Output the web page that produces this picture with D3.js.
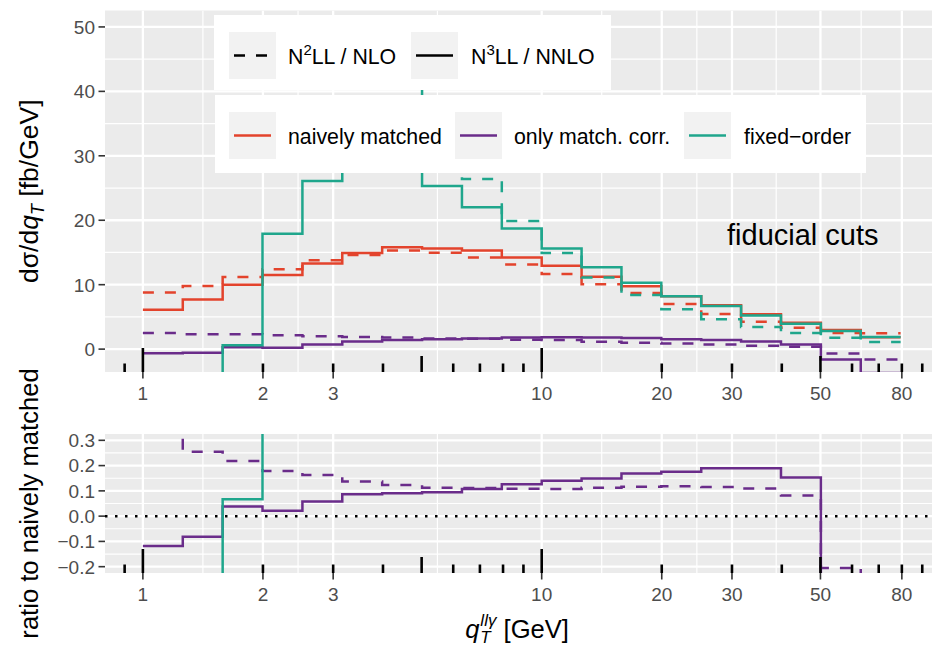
<!DOCTYPE html>
<html>
<head>
<meta charset="utf-8">
<script src="https://cdn.jsdelivr.net/npm/d3@7"></script>
<style>
  body { margin: 0; background: #ffffff; }
  svg { display: block; overflow: hidden; }
  text { font-family: "Liberation Sans", Arial, Helvetica, sans-serif; }
</style>
</head>
<body>
<svg id="chart" width="932" height="648"></svg>
<script>
// ---- data -------------------------------------------------------------
// q_T bin edges in GeV (ten bins per decade)
const binEdges = [1, 1.259, 1.585, 1.995, 2.512, 3.162, 3.981, 5.012, 6.310, 7.943,
                  10, 12.59, 15.85, 19.95, 25.12, 31.62, 39.81, 50.12, 63.10, 79.43];

const xBreaks = [1, 2, 3, 10, 20, 30, 50, 80];
const xBreakLabels = ["1", "2", "3", "10", "20", "30", "50", "80"];

const topLimits = [-1, 50];
const topBreaks = [0, 10, 20, 30, 40, 50];
const topBreakLabels = ["0", "10", "20", "30", "40", "50"];

const ratioLimits = [-0.2, 0.3];
const ratioBreaks = [-0.2, -0.1, 0, 0.1, 0.2, 0.3];
const ratioBreakLabels = ["\u22120.2", "\u22120.1", "0.0", "0.1", "0.2", "0.3"];

// dσ/dq_T [fb/GeV], one value per bin (null: bin not computed)
const naiveN2LL = [8.8, 9.8, 11.2, 12.4, 13.8, 14.6, 15.3, 14.95, 14.2, 13.15,
                   11.65, 10.05, 8.7, 7.0, 5.45, 4.25, 3.3, 2.5, 2.45];
const naiveN3LL = [6.1, 7.7, 10.0, 11.5, 13.3, 14.9, 15.8, 15.6, 15.3, 14.2,
                   12.95, 11.25, 9.75, 8.2, 6.8, 5.4, 4.1, 2.95, 1.85];
const matchN2LL = [2.5, 2.3, 2.3, 2.15, 2.0, 1.9, 1.8, 1.65, 1.6, 1.45,
                   1.4, 1.13, 0.98, 0.88, 0.73, 0.52, 0.36, -0.67, -1.6];
const matchN3LL = [-0.65, -0.55, 0.3, 0.22, 0.72, 1.2, 1.42, 1.52, 1.65, 1.8,
                   1.85, 1.8, 1.72, 1.55, 1.4, 1.2, 0.7, -1.6, -3.7];
const fixedNLO  = [null, null, 51, 50, 48, 47, 45, 31, 26.4, 19.9,
                   14.9, 11.1, 8.4, 6.2, 4.65, 3.45, 2.5, 1.75, 1.1];
const fixedNNLO = [-12, -8, 0.6, 17.9, 26.1, 33, 38.5, 25.3, 22.0, 18.7,
                   15.6, 12.7, 10.3, 8.2, 6.7, 5.2, 3.95, 2.8, 1.9];

// ratio to naively matched
const ratioMatchN2LL = [0.41, 0.255, 0.218, 0.179, 0.163, 0.137, 0.123, 0.112, 0.111, 0.108,
                        0.107, 0.112, 0.116, 0.118, 0.115, 0.109, 0.082, -0.205, -0.65];
const ratioMatchN3LL = [-0.118, -0.082, 0.038, 0.021, 0.058, 0.087, 0.091, 0.095, 0.107, 0.126,
                        0.14, 0.149, 0.169, 0.176, 0.189, 0.189, 0.153, -0.54, -2.0];
const ratioFixedNNLO = [-2.0, -1.0, 0.067, 1.56, 1.96, 2.2, 2.5, 1.62, 1.44, 1.32,
                        1.2, 1.13, 1.06, 1.0, 0.99, 0.96, 0.96, 0.95, 1.03];

const legendOrders = ["N\u00b2LL / NLO", "N\u00b3LL / NNLO"];
const legendTypes = ["naively matched", "only match. corr.", "fixed\u2212order"];

// ---- layout -----------------------------------------------------------
const RED = "#E3432C", PURPLE = "#6A2C8A", TEAL = "#1FA68C";
const PANEL_BG = "#EBEBEB", AXIS_TEXT = "#4D4D4D", TICK = "#333333";
const plotLeft = 105, plotRight = 938.5;
const topPanel = { top: 10.5, bottom: 372 };
const ratioPanel = { top: 434, bottom: 573 };
const LW = 2.5, DASH = "11,11";

const svg = d3.select("#chart");

// log x-scale with 5% expansion of the data range
const lx = [Math.log10(binEdges[0]), Math.log10(binEdges[binEdges.length - 1])];
const lpad = (lx[1] - lx[0]) * 0.05;
const x = d3.scaleLog()
  .domain([Math.pow(10, lx[0] - lpad), Math.pow(10, lx[1] + lpad)])
  .range([plotLeft, plotRight]);

function expand(lim) {
  const p = (lim[1] - lim[0]) * 0.05;
  return [lim[0] - p, lim[1] + p];
}
const yTop = d3.scaleLinear().domain(expand(topLimits)).range([topPanel.bottom, topPanel.top]);
const yRatio = d3.scaleLinear().domain(expand(ratioLimits)).range([ratioPanel.bottom, ratioPanel.top]);

// minor breaks: midpoints (in transformed space) between major breaks
function minorLog(br) {
  const out = [];
  for (let i = 0; i < br.length - 1; i++) out.push(Math.sqrt(br[i] * br[i + 1]));
  return out;
}
function minorLin(br, dom) {
  const step = br[1] - br[0];
  const out = [];
  for (let v = br[0] - step / 2; v <= br[br.length - 1] + step / 2 + 1e-9; v += step) {
    if (v >= dom[0] && v <= dom[1]) out.push(v);
  }
  return out;
}

// histogram outline: each bin drawn flat between its edges, joined by verticals
function stepPoints(values) {
  const pts = values.map((v, i) => [binEdges[i], v]);
  pts.push([binEdges[values.length], values[values.length - 1]]);
  return pts;
}

function drawPanel(id, y, panel, yBreaks, yLabels, series, zeroLine) {
  const g = svg.append("g");
  const w = plotRight - plotLeft, h = panel.bottom - panel.top;
  svg.append("clipPath").attr("id", id)
    .append("rect").attr("x", plotLeft).attr("y", panel.top).attr("width", w).attr("height", h);

  g.append("rect").attr("x", plotLeft).attr("y", panel.top)
    .attr("width", w).attr("height", h).attr("fill", PANEL_BG);

  const grid = g.append("g").attr("clip-path", `url(#${id})`);
  minorLin(yBreaks, y.domain()).forEach(v => {
    grid.append("line").attr("x1", plotLeft).attr("x2", plotRight)
      .attr("y1", y(v)).attr("y2", y(v)).attr("stroke", "#fff").attr("stroke-width", 1.2);
  });
  minorLog(xBreaks).forEach(v => {
    grid.append("line").attr("x1", x(v)).attr("x2", x(v))
      .attr("y1", panel.top).attr("y2", panel.bottom).attr("stroke", "#fff").attr("stroke-width", 1.2);
  });
  yBreaks.forEach(v => {
    grid.append("line").attr("x1", plotLeft).attr("x2", plotRight)
      .attr("y1", y(v)).attr("y2", y(v)).attr("stroke", "#fff").attr("stroke-width", 2.3);
  });
  xBreaks.forEach(v => {
    grid.append("line").attr("x1", x(v)).attr("x2", x(v))
      .attr("y1", panel.top).attr("y2", panel.bottom).attr("stroke", "#fff").attr("stroke-width", 2.3);
  });

  const data = g.append("g").attr("clip-path", `url(#${id})`);
  if (zeroLine) {
    data.append("line").attr("x1", plotLeft).attr("x2", plotRight)
      .attr("y1", y(0)).attr("y2", y(0))
      .attr("stroke", "#000").attr("stroke-width", 2.5).attr("stroke-dasharray", "2.5,7.5");
  }
  const line = d3.line()
    .defined(d => d[1] !== null)
    .x(d => x(d[0])).y(d => y(d[1]))
    .curve(d3.curveStepAfter);
  series.forEach(s => {
    data.append("path").attr("d", line(stepPoints(s.values)))
      .attr("fill", "none").attr("stroke", s.color).attr("stroke-width", LW)
      .attr("stroke-dasharray", s.dashed ? DASH : null)
      .attr("stroke-linejoin", "miter");
  });

  // log ticks along the bottom of the panel
  const lt = data.append("g");
  const lo = x.domain()[0], hi = x.domain()[1];
  for (let dec = -1; dec <= 2; dec++) {
    for (let m = 1; m <= 9; m++) {
      const v = m * Math.pow(10, dec);
      if (v < lo || v > hi) continue;
      const len = m === 1 ? 24 : (m === 5 ? 16 : 8.5);
      lt.append("line").attr("x1", x(v)).attr("x2", x(v))
        .attr("y1", panel.bottom).attr("y2", panel.bottom - len)
        .attr("stroke", "#000").attr("stroke-width", 2.6);
    }
  }

  // axes: ticks and labels
  const ax = g.append("g");
  yBreaks.forEach((v, i) => {
    ax.append("line").attr("x1", plotLeft - 6.5).attr("x2", plotLeft)
      .attr("y1", y(v)).attr("y2", y(v)).attr("stroke", TICK).attr("stroke-width", 1.6);
    ax.append("text").attr("x", plotLeft - 10).attr("y", y(v)).attr("dy", "0.36em")
      .attr("text-anchor", "end").attr("fill", AXIS_TEXT).attr("font-size", 19)
      .text(yLabels[i]);
  });
  xBreaks.forEach((v, i) => {
    ax.append("line").attr("x1", x(v)).attr("x2", x(v))
      .attr("y1", panel.bottom).attr("y2", panel.bottom + 6.5)
      .attr("stroke", TICK).attr("stroke-width", 1.6);
    ax.append("text").attr("x", x(v)).attr("y", panel.bottom + 27.5)
      .attr("text-anchor", "middle").attr("fill", AXIS_TEXT).attr("font-size", 19)
      .text(xBreakLabels[i]);
  });
  return g;
}

drawPanel("clipTop", yTop, topPanel, topBreaks, topBreakLabels, [
  { values: naiveN2LL, color: RED, dashed: true },
  { values: naiveN3LL, color: RED, dashed: false },
  { values: matchN2LL, color: PURPLE, dashed: true },
  { values: matchN3LL, color: PURPLE, dashed: false },
  { values: fixedNLO, color: TEAL, dashed: true },
  { values: fixedNNLO, color: TEAL, dashed: false }
], false);

drawPanel("clipRatio", yRatio, ratioPanel, ratioBreaks, ratioBreakLabels, [
  { values: ratioMatchN2LL, color: PURPLE, dashed: true },
  { values: ratioMatchN3LL, color: PURPLE, dashed: false },
  { values: ratioFixedNNLO, color: TEAL, dashed: false }
], true);

// in-panel annotation
svg.append("text").attr("x", 727).attr("y", 245).attr("font-size", 29)
  .attr("fill", "#000").text("fiducial cuts");

// ---- legends ------------------------------------------------------------
function legendBox(box, items) {
  const g = svg.append("g");
  g.append("rect").attr("x", box.x).attr("y", box.y).attr("width", box.w).attr("height", box.h)
    .attr("fill", "#fff");
  items.forEach(it => {
    g.append("rect").attr("x", it.kx).attr("y", box.keyY).attr("width", 47).attr("height", 47)
      .attr("fill", "#F2F2F2");
    g.append("line").attr("x1", it.kx + 5).attr("x2", it.kx + 42)
      .attr("y1", box.keyY + 23.5).attr("y2", box.keyY + 23.5)
      .attr("stroke", it.color).attr("stroke-width", LW)
      .attr("stroke-dasharray", it.dashed ? DASH : null);
    const t = g.append("text").attr("x", it.tx).attr("y", box.keyY + 31.5)
      .attr("font-size", 21.3).attr("fill", "#000");
    if (it.sup) {
      t.append("tspan").text(it.label.slice(0, 1));
      t.append("tspan").attr("font-size", 15).attr("dy", -8.5).text(it.sup);
      t.append("tspan").attr("dy", 8.5).text(it.label.slice(2));
    } else {
      t.text(it.label);
    }
  });
}

legendBox({ x: 214, y: 15, w: 397, h: 75, keyY: 32 }, [
  { kx: 229, tx: 288, color: "#000", dashed: true, label: legendOrders[0], sup: "2" },
  { kx: 411, tx: 471, color: "#000", dashed: false, label: legendOrders[1], sup: "3" }
]);
legendBox({ x: 215, y: 95, w: 651, h: 78, keyY: 112 }, [
  { kx: 229, tx: 288, color: RED, dashed: false, label: legendTypes[0] },
  { kx: 455, tx: 514, color: PURPLE, dashed: false, label: legendTypes[1] },
  { kx: 684, tx: 744, color: TEAL, dashed: false, label: legendTypes[2] }
]);

// ---- axis titles ----------------------------------------------------------
const TITLE = 25.6;
const yt1 = svg.append("text")
  .attr("transform", `translate(38,${(topPanel.top + topPanel.bottom) / 2}) rotate(-90)`)
  .attr("text-anchor", "middle").attr("font-size", 26.5).attr("fill", "#000");
yt1.append("tspan").text("d\u03c3/d");
yt1.append("tspan").attr("font-style", "italic").text("q");
yt1.append("tspan").attr("font-style", "italic").attr("font-size", 18).attr("dy", 6).text("T");
yt1.append("tspan").attr("dy", -6).text(" [fb/GeV]");

svg.append("text")
  .attr("transform", `translate(38,${(ratioPanel.top + ratioPanel.bottom) / 2}) rotate(-90)`)
  .attr("text-anchor", "middle").attr("font-size", TITLE).attr("fill", "#000")
  .text("ratio to naively matched");

// x title: q_T^{llγ} [GeV] as one text element, centred under the panels
const base = 638;
const xt = svg.append("text").attr("y", base).attr("font-size", TITLE).attr("fill", "#000");
xt.append("tspan").attr("font-style", "italic").text("q");
const supT = xt.append("tspan").attr("font-style", "italic").attr("font-size", 17)
  .attr("dx", 1).attr("dy", -12).text("ll\u03b3");
const supW = supT.node().getComputedTextLength();
const subT = xt.append("tspan").attr("font-style", "italic").attr("font-size", 17)
  .attr("dx", -supW).attr("dy", 17).text("T");
const subW = subT.node().getComputedTextLength();
xt.append("tspan").attr("dx", Math.max(0, supW - subW)).attr("dy", -5).text("\u00a0[GeV]");
const totalW = xt.node().getComputedTextLength();
xt.attr("x", (plotLeft + plotRight) / 2 - totalW / 2);
</script>
</body>
</html>
